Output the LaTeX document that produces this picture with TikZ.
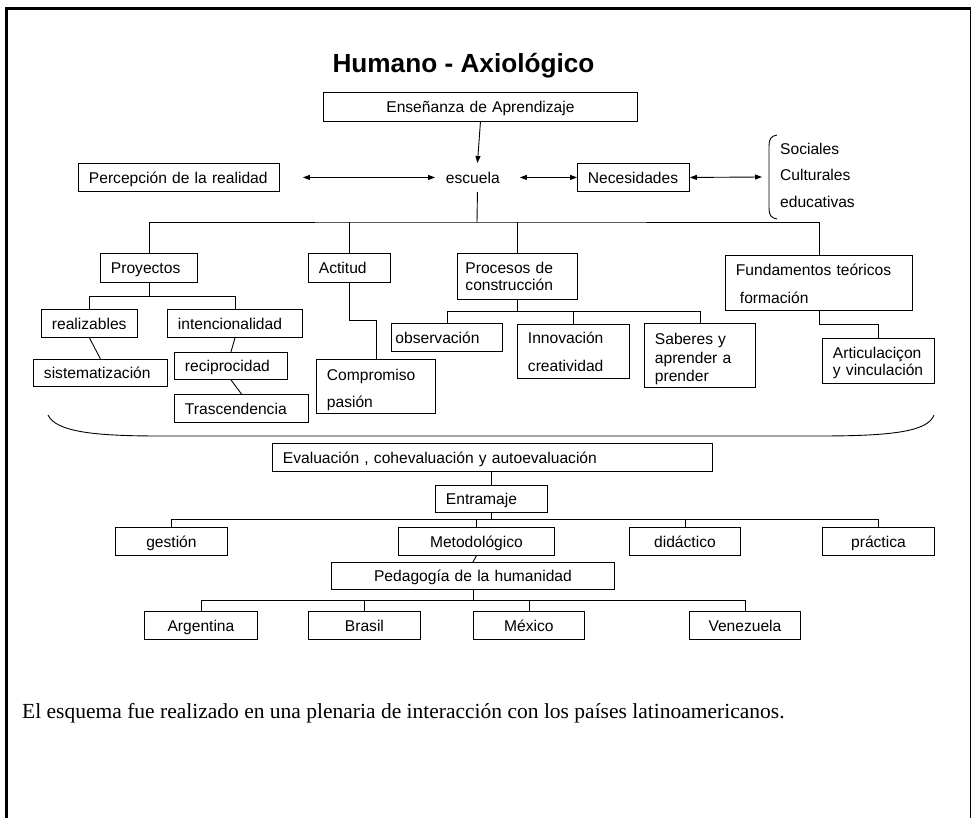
\documentclass[tikz,border=0pt]{standalone}
\usepackage{fontspec}
\setmainfont{Liberation Serif}
\setsansfont{Liberation Sans}
\usetikzlibrary{arrows.meta}

\newcommand{\cajafont}[1]{\fontsize{15.6}{#1}\selectfont\sffamily}

\tikzset{
  marco/.style={draw, line width=0.9pt, anchor=north west, inner xsep=10.5pt, inner ysep=0pt, minimum height=28pt, align=left, font=\cajafont{18}},
  caja/.style={marco, text height=11.3pt, text depth=0pt},
  bloque/.style={marco},
  centro/.style={align=center},
  rama/.style={line width=0.9pt},
  flecha/.style={rama, -{Triangle[length=7pt,width=5pt]}},
  doble/.style={rama, {Triangle[length=7pt,width=5pt]}-{Triangle[length=7pt,width=5pt]}}
}

\begin{document}
\begin{tikzpicture}[x=1pt,y=-1pt]
\useasboundingbox (0,0) rectangle (972,818);
% borde de la hoja
\draw[line width=3.3pt] (6.3,818) -- (6.3,8.5) -- (971,8.5);
\draw[line width=1.2pt] (970.4,8.5) -- (970.4,818);

\node[font=\fontsize{26.2}{30}\selectfont\sffamily\bfseries, anchor=base] (titulo) at (463.5,73) {Humano - Axiológico};

% parte alta
\node[caja, centro, text width=293pt, minimum height=29pt] (ensenanza) at (323,92) {Enseñanza de Aprendizaje};
\node[caja, text width=180pt] (percepcion) at (78,163) {Percepción de la realidad};
\node[caja, draw=none, text width=63pt] (escuela) at (435,163) {escuela};
\node[caja, text width=91pt] (necesidades) at (577,163) {Necesidades};
\node[anchor=west, inner sep=0pt, align=left, font=\cajafont{26.5}] (tipos) at (780,175) {Sociales\\Culturales\\educativas};
\draw[rama] (777,135) .. controls (771,136) and (769,139) .. (769,146) -- (769,208) .. controls (769,215) and (771,218) .. (777,219);
\coordinate (llave) at (762,177);

\node[caja, text width=76pt, minimum height=29pt] (proyectos) at (100,253) {Proyectos};
\node[caja, text width=61pt, minimum height=29pt] (actitud) at (308,253) {Actitud};
\node[bloque, inner xsep=8pt, text width=104pt, minimum height=46pt, font=\cajafont{17}] (procesos) at (457,253) {Procesos de\\construcción};
\node[bloque, text width=166pt, minimum height=55pt, font=\cajafont{28}] (fundamentos) at (725,255) {\rule{0pt}{14pt}Fundamentos teóricos\\\hspace*{4pt}formación};

\node[caja, text width=75pt] (realizables) at (41,309) {realizables};
\node[caja, text width=114pt] (intencionalidad) at (167,309) {intencionalidad};
\node[caja, text width=113pt, minimum height=27pt] (sistematizacion) at (33,359) {sistematización};
\node[caja, text width=92pt, minimum height=27pt] (reciprocidad) at (174,352) {reciprocidad};
\node[caja, text width=113pt] (trascendencia) at (174,394) {Trascendencia};
\node[bloque, text width=98pt, minimum height=54pt, font=\cajafont{27}] (compromiso) at (316,359) {\rule{0pt}{19pt}Compromiso\\pasión};

\node[caja, inner xsep=4pt, text width=103pt] (observacion) at (391,323) {observación};
\node[bloque, text width=91pt, minimum height=54pt, font=\cajafont{28}] (innovacion) at (517,324) {Innovación\\creatividad};
\node[bloque, text width=90pt, minimum height=64pt, font=\cajafont{18.5}] (saberes) at (644,323) {\rule{0pt}{18.5pt}Saberes y\\aprender a\\prender};
\node[bloque, text width=91pt, minimum height=45pt, font=\cajafont{17.5}] (articulacion) at (822,338) {\rule{0pt}{15.5pt}Articulaciçon\\y vinculación};

% parte baja
\node[caja, text width=419pt] (evaluacion) at (272,443) {Evaluación , cohevaluación y autoevaluación};
\node[caja, text width=91pt, minimum height=27pt] (entramaje) at (435,485) {Entramaje};
\node[caja, centro, text width=91pt] (gestion) at (115,527) {gestión};
\node[caja, centro, text width=135pt] (metodologico) at (398,527) {Metodológico};
\node[caja, centro, text width=90pt] (didactico) at (629,527) {didáctico};
\node[caja, centro, text width=91pt] (practica) at (822,527) {práctica};
\node[caja, centro, text width=262pt, minimum height=27pt] (pedagogia) at (331,562) {Pedagogía de la humanidad};
\node[caja, centro, text width=92pt] (argentina) at (144,611) {Argentina};
\node[caja, centro, text width=91pt] (brasil) at (308,611) {Brasil};
\node[caja, centro, text width=90pt] (mexico) at (473,611) {México};
\node[caja, centro, text width=90pt] (venezuela) at (689,611) {Venezuela};

\node[anchor=base west, inner sep=0pt, font=\fontsize{21.5}{26}\selectfont] (nota) at (22,718) {El esquema fue realizado en una plenaria de interacción con los países latinoamericanos.};

% conectores
\draw[flecha] (ensenanza.south) -- (escuela.north);
\draw[doble] ([xshift=23pt]percepcion.east) -- (escuela.west);
\draw[doble] (escuela.east) -- (necesidades.west);
\draw[doble] (necesidades.east) -- (llave);

\coordinate (r0) at (477,222);
\draw[rama] (escuela.south) -- (r0);
\draw[rama] (proyectos.north) |- (r0) -| (fundamentos.north);
\draw[rama] (actitud.north) -- (actitud.north |- r0);
\draw[rama] (procesos.north) -- (procesos.north |- r0);

\draw[rama] (proyectos.south) -- ++(0,14) coordinate (r1);
\draw[rama] (realizables.north) |- (r1) -| (intencionalidad.north);
\draw[rama] (realizables.south) -- (sistematizacion.north);
\draw[rama] (intencionalidad.south) -- (reciprocidad.north);
\draw[rama] (reciprocidad.south) -- (trascendencia.north);
\draw[rama] (actitud.south) -- ++(0,38) -| (compromiso.north);

\draw[rama] (procesos.south) -- ++(0,12) coordinate (r2);
\draw[rama] (observacion.north) |- (r2) -| (saberes.north);
\draw[rama] (innovacion.north) -- (innovacion.north |- r2);
\draw[rama] (fundamentos.south) -- ++(0,14) -| (articulacion.north);

\draw[rama] (48,415) .. controls (56,432) and (95,436) .. (160,436) -- (820,436) .. controls (895,436) and (928,431) .. (934,415);

\draw[rama] (entramaje.north |- evaluacion.south) -- (entramaje.north);
\draw[rama] (entramaje.south) -- ++(0,7) coordinate (r3);
\draw[rama] (gestion.north) |- (r3) -| (practica.north);
\draw[rama] (metodologico.north) -- (metodologico.north |- r3);
\draw[rama] (didactico.north) -- (didactico.north |- r3);
\draw[rama] (metodologico.south) -- (pedagogia.north);
\draw[rama] (pedagogia.south) -- ++(0,11) coordinate (r4);
\draw[rama] (argentina.north) |- (r4) -| (venezuela.north);
\draw[rama] (brasil.north) -- (brasil.north |- r4);
\draw[rama] (mexico.north) -- (mexico.north |- r4);
\end{tikzpicture}
\end{document}
